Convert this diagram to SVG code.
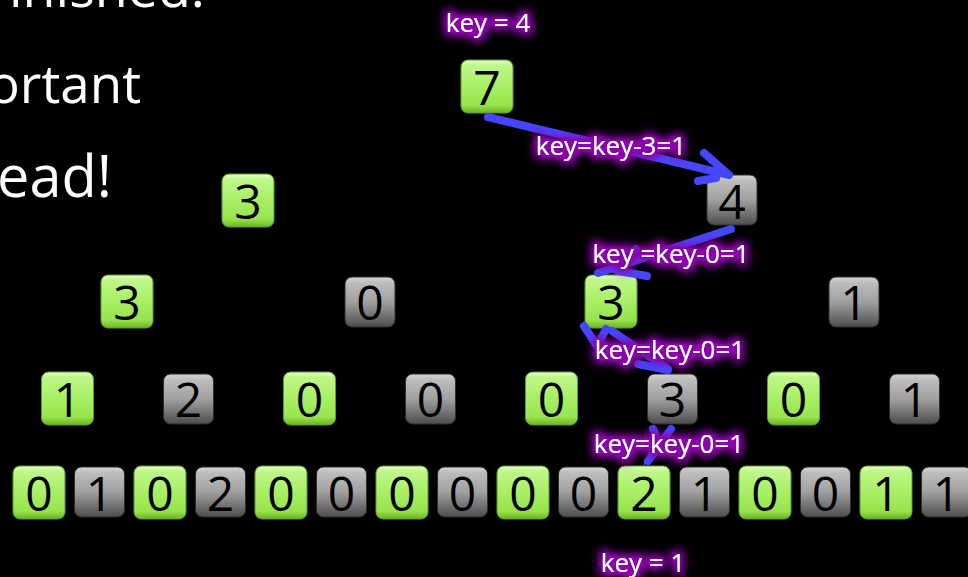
<svg xmlns="http://www.w3.org/2000/svg" width="968" height="577" viewBox="0 0 968 577">
<defs>
<linearGradient id="gg" x1="0" y1="0" x2="0" y2="1">
<stop offset="0" stop-color="#e4ffc8"/>
<stop offset="0.1" stop-color="#bff78a"/>
<stop offset="0.5" stop-color="#a8ef64"/>
<stop offset="0.85" stop-color="#98e34e"/>
<stop offset="1" stop-color="#6cb422"/>
</linearGradient>
<linearGradient id="kg" x1="0" y1="0" x2="0" y2="1">
<stop offset="0" stop-color="#d4d4d4"/>
<stop offset="0.12" stop-color="#bdbdbd"/>
<stop offset="0.5" stop-color="#a0a0a0"/>
<stop offset="1" stop-color="#4c4c4c"/>
</linearGradient>
<filter id="glow" x="-25%" y="-60%" width="150%" height="220%">
<feMorphology in="SourceAlpha" operator="dilate" radius="3" result="d"/>
<feGaussianBlur in="d" stdDeviation="5" result="b"/>
<feFlood flood-color="#8a00aa"/>
<feComposite in2="b" operator="in" result="g"/>
<feComponentTransfer in="g" result="g2"><feFuncA type="linear" slope="1.4"/></feComponentTransfer>
<feMerge><feMergeNode in="g2"/><feMergeNode in="SourceGraphic"/></feMerge>
</filter>
<style>
.slide{font-family:"Open Sans","DejaVu Sans",sans-serif;fill:#fff}
.g rect{fill:url(#gg);stroke:#5e9e22;stroke-width:1}
.k rect{fill:url(#kg);stroke:#2e2e2e;stroke-width:1}
.n text{font-family:"Open Sans","DejaVu Sans",sans-serif;font-size:48px;fill:#000;text-anchor:middle}
.c{fill:none;stroke:#4646ff;stroke-width:8;stroke-linecap:round;stroke-linejoin:round}
.lab text{font-family:"Open Sans","DejaVu Sans",sans-serif;font-size:26px;fill:#fff;text-anchor:middle;filter:url(#glow)}
</style>
</defs>
<rect width="968" height="577" fill="#000"/>
<g id="slide-text" class="slide">
<text x="9" y="7" font-size="53" textLength="196" lengthAdjust="spacingAndGlyphs">inished.</text>
<text x="-12" y="103" font-size="53" textLength="153" lengthAdjust="spacingAndGlyphs">ortant</text>
<text x="-3" y="197" font-size="59" textLength="115" lengthAdjust="spacingAndGlyphs">ead!</text>
</g>
<g id="nodes" class="n">
<g id="n1" class="g"><rect x="461" y="60" width="52" height="53" rx="7"/><text x="487" y="105">7</text></g>
<g id="n2" class="g"><rect x="222" y="174" width="52" height="53" rx="7"/><text x="248" y="219">3</text></g>
<g id="n3" class="k"><rect x="707" y="175" width="50" height="50" rx="7"/><text x="732" y="219">4</text></g>
<g id="n4" class="g"><rect x="101" y="275" width="52" height="53" rx="7"/><text x="127" y="320">3</text></g>
<g id="n5" class="k"><rect x="345" y="277" width="50" height="50" rx="7"/><text x="370" y="320">0</text></g>
<g id="n6" class="g"><rect x="585" y="275" width="52" height="53" rx="7"/><text x="611" y="320">3</text></g>
<g id="n7" class="k"><rect x="829" y="277" width="50" height="50" rx="7"/><text x="854" y="320">1</text></g>
<g id="n8" class="g"><rect x="41.5" y="372" width="52" height="53" rx="7"/><text x="67.5" y="417">1</text></g>
<g id="n9" class="k"><rect x="163.5" y="374" width="50" height="50" rx="7"/><text x="188.5" y="417">2</text></g>
<g id="n10" class="g"><rect x="283.5" y="372" width="52" height="53" rx="7"/><text x="309.5" y="417">0</text></g>
<g id="n11" class="k"><rect x="405.5" y="374" width="50" height="50" rx="7"/><text x="430.5" y="417">0</text></g>
<g id="n12" class="g"><rect x="525.5" y="372" width="52" height="53" rx="7"/><text x="551.5" y="417">0</text></g>
<g id="n13" class="k"><rect x="647.5" y="374" width="50" height="50" rx="7"/><text x="672.5" y="417">3</text></g>
<g id="n14" class="g"><rect x="767.5" y="372" width="52" height="53" rx="7"/><text x="793.5" y="417">0</text></g>
<g id="n15" class="k"><rect x="889.5" y="374" width="50" height="50" rx="7"/><text x="914.5" y="417">1</text></g>
<g id="n16" class="g"><rect x="13" y="466" width="52" height="53" rx="7"/><text x="39" y="511">0</text></g>
<g id="n17" class="k"><rect x="74.5" y="467" width="50" height="50" rx="7"/><text x="99.5" y="511">1</text></g>
<g id="n18" class="g"><rect x="134" y="466" width="52" height="53" rx="7"/><text x="160" y="511">0</text></g>
<g id="n19" class="k"><rect x="195.5" y="467" width="50" height="50" rx="7"/><text x="220.5" y="511">2</text></g>
<g id="n20" class="g"><rect x="255" y="466" width="52" height="53" rx="7"/><text x="281" y="511">0</text></g>
<g id="n21" class="k"><rect x="316.5" y="467" width="50" height="50" rx="7"/><text x="341.5" y="511">0</text></g>
<g id="n22" class="g"><rect x="376" y="466" width="52" height="53" rx="7"/><text x="402" y="511">0</text></g>
<g id="n23" class="k"><rect x="437.5" y="467" width="50" height="50" rx="7"/><text x="462.5" y="511">0</text></g>
<g id="n24" class="g"><rect x="497" y="466" width="52" height="53" rx="7"/><text x="523" y="511">0</text></g>
<g id="n25" class="k"><rect x="558.5" y="467" width="50" height="50" rx="7"/><text x="583.5" y="511">0</text></g>
<g id="n26" class="g"><rect x="618" y="466" width="52" height="53" rx="7"/><text x="644" y="511">2</text></g>
<g id="n27" class="k"><rect x="679.5" y="467" width="50" height="50" rx="7"/><text x="704.5" y="511">1</text></g>
<g id="n28" class="g"><rect x="739" y="466" width="52" height="53" rx="7"/><text x="765" y="511">0</text></g>
<g id="n29" class="k"><rect x="800.5" y="467" width="50" height="50" rx="7"/><text x="825.5" y="511">0</text></g>
<g id="n30" class="g"><rect x="860" y="466" width="52" height="53" rx="7"/><text x="886" y="511">1</text></g>
<g id="n31" class="k"><rect x="921.5" y="467" width="50" height="50" rx="7"/><text x="946.5" y="511">1</text></g>
</g>
<g id="connectors">
<path class="c" d="M488,117 L729,175 M704,153 L729,175 M698,181 L716,178"/>
<path class="c" d="M731,229 L598,273 M636,249 L616,270 M647,276 L618,271"/>
<path class="c" d="M584,326 L597,346 M606,329 L598,345"/>
<path class="c" d="M612,331 L668,369 M638,364 L668,370"/>
<path class="c" d="M671,429 L648,461 M653,429 L659,444"/>
<path d="M643,466 L652,444 L661,452 Z" fill="#4646ff"/>
</g>
<g id="labels" class="lab">
<text x="488" y="32">key = 4</text>
<text x="611" y="155">key=key-3=1</text>
<text x="671" y="263">key =key-0=1</text>
<text x="670" y="359">key=key-0=1</text>
<text x="669" y="453">key=key-0=1</text>
<text x="643" y="572">key = 1</text>
</g>
</svg>
